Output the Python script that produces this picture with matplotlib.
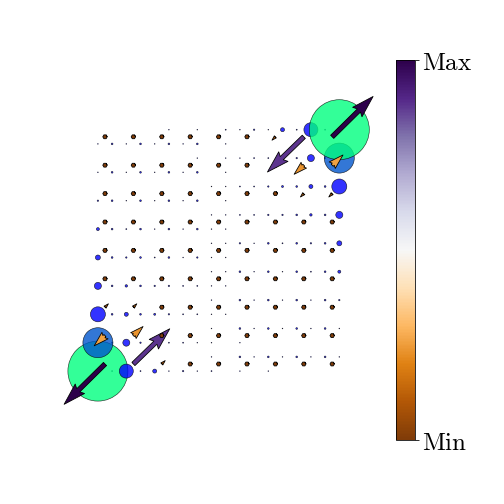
import numpy as np
import matplotlib
matplotlib.use("Agg")
import matplotlib.pyplot as plt

plt.rcParams["mathtext.fontset"] = "cm"

# 9x9 grid, rows listed top (j=8) -> bottom (j=0), columns i=0..8
# arrow components at the grid nodes (data units)
U = [
    [0, 0, 0, 0, 0, 0, -0.12, -1.28, 1.44],
    [0, 0, 0, 0, 0, 0, 0, -0.34, 0.38],
    [0, 0, 0, 0, 0, 0, 0, -0.12, -0.12],
    [0, 0, 0, 0, 0, 0, 0, 0, 0],
    [0, 0, 0, 0, 0, 0, 0, 0, 0],
    [0, 0, 0, 0, 0, 0, 0, 0, 0],
    [0.12, 0.12, 0, 0, 0, 0, 0, 0, 0],
    [-0.38, 0.34, 0, 0, 0, 0, 0, 0, 0],
    [-1.44, 1.28, 0.12, 0, 0, 0, 0, 0, 0],
]
V = [
    [0, 0, 0, 0, 0, 0, -0.12, -1.24, 1.42],
    [0, 0, 0, 0, 0, 0, 0, -0.32, 0.36],
    [0, 0, 0, 0, 0, 0, 0, -0.12, -0.12],
    [0, 0, 0, 0, 0, 0, 0, 0, 0],
    [0, 0, 0, 0, 0, 0, 0, 0, 0],
    [0, 0, 0, 0, 0, 0, 0, 0, 0],
    [0.12, 0.12, 0, 0, 0, 0, 0, 0, 0],
    [-0.36, 0.32, 0, 0, 0, 0, 0, 0, 0],
    [-1.42, 1.24, 0.12, 0, 0, 0, 0, 0, 0],
]

# marker sizes of the four sub-grids around each node
s_lowleft = [  # offset (-, -)
    [0.5, 0.5, 0.5, 0.5, 0, 0, 0, 0, 0],
    [0.5, 0.5, 0.5, 0.5, 0, 0, 0, 0, 0],
    [2, 0.5, 0.5, 0.5, 0, 0, 0, 0, 0],
    [9, 1, 0.5, 0.5, 0.5, 0, 0, 0, 0],
    [25, 2, 1, 0.5, 0.5, 0, 0, 0, 0],
    [50, 6, 2, 1, 0.5, 0, 0, 0, 0],
    [225, 16, 4, 1, 0.5, 0, 0, 0, 0],
    [900, 49, 4, 1, 0.5, 0.5, 0, 0, 0],
    [3600, 196, 16, 2, 1, 0.5, 0.5, 0, 0],
]
s_upright = [  # offset (+, +)
    [0, 0, 0.5, 0.5, 1, 2, 16, 196, 3600],
    [0, 0, 0, 0.5, 0.5, 1, 4, 49, 900],
    [0, 0, 0, 0, 0.5, 1, 4, 16, 225],
    [0, 0, 0, 0, 0.5, 1, 2, 6, 50],
    [0, 0, 0, 0, 0.5, 0.5, 1, 2, 25],
    [0, 0, 0, 0, 0.5, 0.5, 0.5, 1, 9],
    [0, 0, 0, 0, 0, 0.5, 0.5, 0.5, 2],
    [0, 0, 0, 0, 0, 0.5, 0.5, 0.5, 0.5],
    [0, 0, 0, 0, 0, 0.5, 0.5, 0.5, 0.5],
]
s_lowright = [  # offset (+, -)
    [3, 3, 3, 3, 0.5, 0, 0, 0, 0],
    [3, 3, 3, 3, 0.5, 0, 0, 0, 0],
    [3, 3, 3, 3, 0.5, 0, 0, 0, 0],
    [3, 3, 3, 3, 0.5, 0, 0, 0, 0],
    [3, 3, 3, 2, 0.5, 0, 0, 0, 0],
    [3, 3, 2, 1, 0.5, 0, 0, 0, 0],
    [3, 3, 2, 1, 0.5, 0, 0, 0, 0],
    [2, 2, 1, 0.5, 0, 0, 0, 0, 0],
    [1, 1, 0.5, 0.5, 0, 0, 0, 0, 0],
]
s_upleft = [  # offset (-, +)
    [0, 0, 0, 0, 0, 0.5, 0.5, 1, 1],
    [0, 0, 0, 0, 0, 0.5, 1, 2, 2],
    [0, 0, 0, 0, 0.5, 1, 2, 3, 3],
    [0, 0, 0, 0, 0.5, 1, 2, 3, 3],
    [0, 0, 0, 0, 0.5, 2, 3, 3, 3],
    [0, 0, 0, 0, 0.5, 3, 3, 3, 3],
    [0, 0, 0, 0, 0.5, 3, 3, 3, 3],
    [0, 0, 0, 0, 0.5, 3, 3, 3, 3],
    [0, 0, 0, 0, 0.5, 3, 3, 3, 3],
]

U = np.array(U, float)[::-1]
V = np.array(V, float)[::-1]
C = np.hypot(U, V)
X, Y = np.meshgrid(np.arange(9), np.arange(9))

fig = plt.figure(figsize=(7, 7), dpi=72)
ax = fig.add_axes([48.2 / 504, 83.2 / 504, 340.8 / 504, 340.8 / 504])
ax.set_xlim(-2, 10)
ax.set_ylim(-2, 10)
ax.axis("off")

d = 0.25
for sizes, (dx, dy) in [(s_lowright, (d, -d)), (s_upleft, (-d, d)),
                        (s_lowleft, (-d, -d)), (s_upright, (d, d))]:
    s = np.array(sizes, float)[::-1]
    # column-major so later points sit on top like the original
    xs = (X + dx).T.ravel()
    ys = (Y + dy).T.ravel()
    ss = s.T.ravel()
    cols = ["springgreen" if v >= 2000 else "#0055cc" if v >= 500 else "blue"
            for v in ss]
    ax.scatter(xs, ys, s=ss, c=cols, alpha=0.8, edgecolors="k",
               linewidths=0.6, zorder=2)

q = ax.quiver(X, Y, U, V, C, cmap="PuOr", angles="xy", scale_units="xy",
              scale=1, width=0.013, edgecolor="k", linewidth=0.8, zorder=3)

cax = fig.add_axes([396 / 504, 64 / 504, 19 / 504, 380 / 504])
cb = fig.colorbar(q, cax=cax)
cb.set_ticks([C.min(), C.max()])
cb.set_ticklabels([r"$\mathrm{Min}$", r"$\mathrm{Max}$"], fontsize=25)

fig.savefig("out.png", dpi=72)
